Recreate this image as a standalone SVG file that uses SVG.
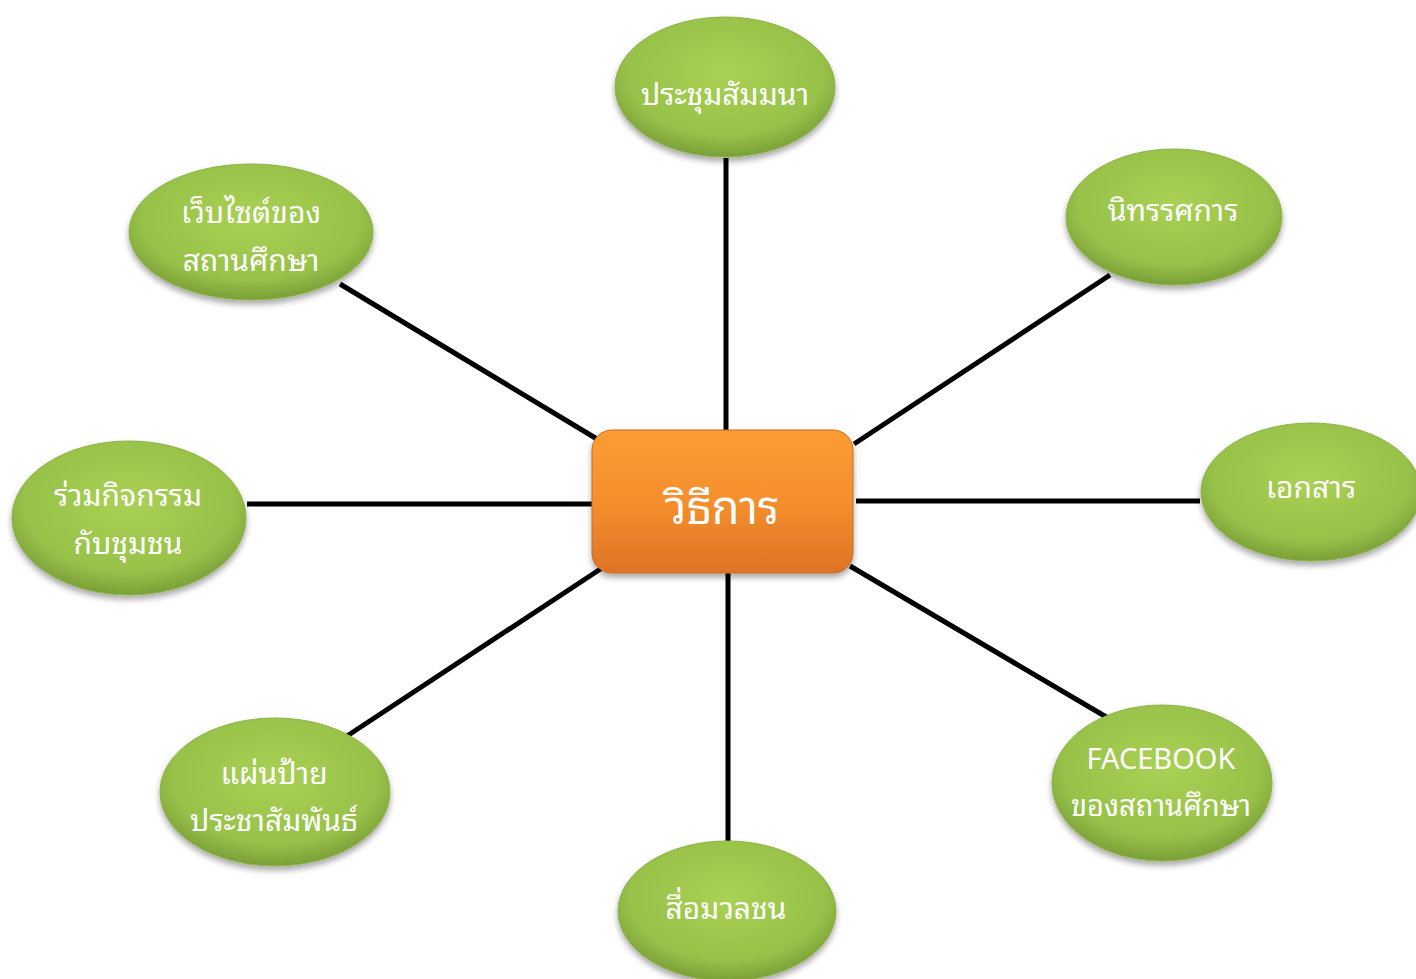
<svg xmlns="http://www.w3.org/2000/svg" width="1416" height="979" viewBox="0 0 1416 979">
<defs>
<style>
.lbl{font-family:"Noto Sans Thai Looped","Noto Sans Thai","Noto Sans","Liberation Sans",sans-serif;font-size:30px;fill:#ffffff;text-anchor:middle}
.ctr{font-size:45px}
.sm{font-size:29px}
.con{stroke:#000;stroke-width:5;fill:none}
.oval{fill:url(#gr);stroke:#8fb247;stroke-width:1;filter:url(#sh)}
</style>
<radialGradient id="gr" cx="0.5" cy="0.4" r="0.6">
<stop offset="0" stop-color="#a9d154"/>
<stop offset="0.75" stop-color="#97c149"/>
<stop offset="1" stop-color="#7a9f38"/>
</radialGradient>
<linearGradient id="og" x1="0" y1="0" x2="0" y2="1">
<stop offset="0" stop-color="#fd9c34"/>
<stop offset="0.5" stop-color="#f58f2d"/>
<stop offset="1" stop-color="#dd7426"/>
</linearGradient>
<filter id="sh" x="-20%" y="-20%" width="140%" height="150%">
<feGaussianBlur in="SourceAlpha" stdDeviation="3"/>
<feOffset dy="4" result="b"/>
<feComponentTransfer><feFuncA type="linear" slope="0.35"/></feComponentTransfer>
<feMerge><feMergeNode/><feMergeNode in="SourceGraphic"/></feMerge>
</filter>
</defs>
<rect width="1416" height="979" fill="#ffffff"/>
<g id="connectors">
<line class="con" x1="726" y1="158" x2="726" y2="432"/>
<line class="con" x1="340" y1="284" x2="597" y2="439"/>
<line class="con" x1="854" y1="444" x2="1110" y2="275"/>
<line class="con" x1="247" y1="504" x2="594" y2="504"/>
<line class="con" x1="856" y1="501" x2="1200" y2="501"/>
<line class="con" x1="347" y1="736" x2="605" y2="566"/>
<line class="con" x1="728" y1="572" x2="728" y2="845"/>
<line class="con" x1="850" y1="566" x2="1108" y2="718"/>
</g>
<g id="n-center">
<rect x="592" y="430" width="261" height="143" rx="20" fill="url(#og)" stroke="#c86a22" stroke-width="1" filter="url(#sh)"/>
<text class="lbl ctr" x="722" y="524">วิธีการ</text>
</g>
<g id="n-seminar">
<ellipse class="oval" cx="725" cy="87" rx="110" ry="70"/>
<text class="lbl" x="725" y="105">ประชุมสัมมนา</text>
</g>
<g id="n-website">
<ellipse class="oval" cx="251" cy="232" rx="122" ry="68"/>
<text class="lbl" x="251" y="223">เว็บไซต์ของ</text>
<text class="lbl" x="251" y="271">สถานศึกษา</text>
</g>
<g id="n-exhibition">
<ellipse class="oval" cx="1174" cy="217" rx="108" ry="68"/>
<text class="lbl" x="1173" y="221">นิทรรศการ</text>
</g>
<g id="n-documents">
<ellipse class="oval" cx="1311" cy="492" rx="110" ry="69"/>
<text class="lbl" x="1311" y="498">เอกสาร</text>
</g>
<g id="n-community">
<ellipse class="oval" cx="129" cy="518" rx="117" ry="77"/>
<text class="lbl" x="128" y="506">ร่วมกิจกรรม</text>
<text class="lbl" x="128" y="554">กับชุมชน</text>
</g>
<g id="n-signboard">
<ellipse class="oval" cx="275" cy="792" rx="115" ry="74"/>
<text class="lbl" x="274" y="784">แผ่นป้าย</text>
<text class="lbl" x="274" y="831">ประชาสัมพันธ์</text>
</g>
<g id="n-media">
<ellipse class="oval" cx="727" cy="911" rx="109" ry="70"/>
<text class="lbl" x="726" y="919">สื่อมวลชน</text>
</g>
<g id="n-facebook">
<ellipse class="oval" cx="1162" cy="783" rx="110" ry="78"/>
<text class="lbl sm" x="1161" y="769">FACEBOOK</text>
<text class="lbl sm" x="1161" y="816">ของสถานศึกษา</text>
</g>
</svg>
